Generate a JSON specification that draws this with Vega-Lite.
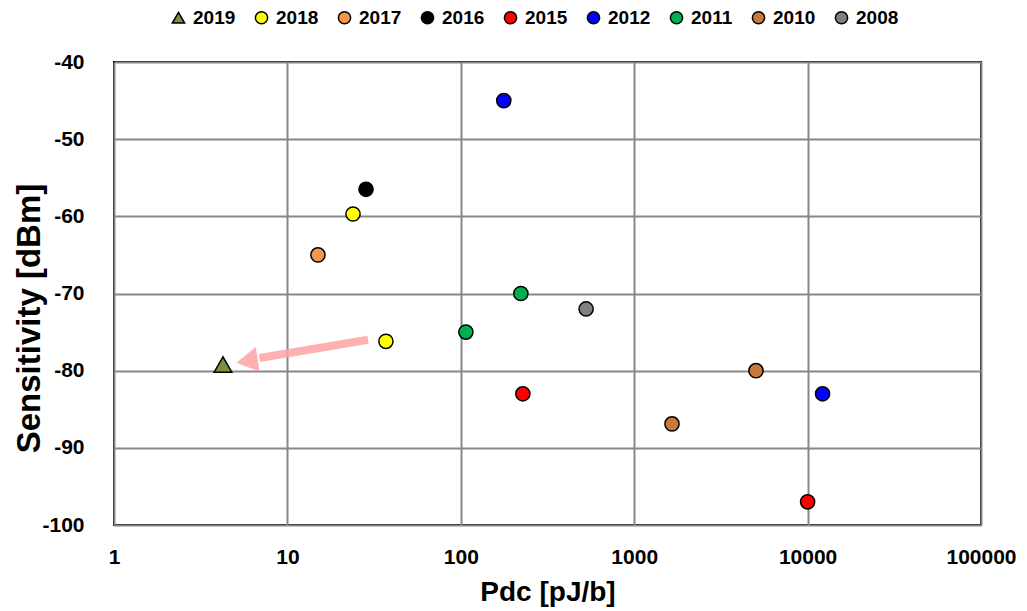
{
  "$schema": "https://vega.github.io/schema/vega-lite/v6.json",
  "width": 867,
  "height": 463,
  "autosize": {"type": "none"},
  "padding": {"left": 114, "top": 62, "right": 46, "bottom": 86},
  "background": "white",
  "config": {
    "view": {"stroke": "black", "strokeWidth": 2},
    "font": "Liberation Sans",
    "axis": {
      "grid": true,
      "gridColor": "#888888",
      "gridWidth": 2,
      "domain": false,
      "ticks": false,
      "labelFont": "Liberation Sans",
      "labelFontWeight": "bold",
      "labelFontSize": 21,
      "labelColor": "black",
      "labelFlush": false,
      "labelOverlap": false,
      "titleFont": "Liberation Sans",
      "titleFontWeight": "bold",
      "titleColor": "black",
      "titleFontSize": 28
    }
  },
  "datasets": {
    "points": [
      {"year": "2019", "pdc": 4.25, "sens": -79.2},
      {"year": "2018", "pdc": 23.9, "sens": -59.7},
      {"year": "2018", "pdc": 37, "sens": -76.2},
      {"year": "2017", "pdc": 15, "sens": -65},
      {"year": "2016", "pdc": 28.4, "sens": -56.5},
      {"year": "2015", "pdc": 228, "sens": -83},
      {"year": "2015", "pdc": 10000, "sens": -97},
      {"year": "2012", "pdc": 177, "sens": -45},
      {"year": "2012", "pdc": 12200, "sens": -83},
      {"year": "2011", "pdc": 107, "sens": -75},
      {"year": "2011", "pdc": 222, "sens": -70},
      {"year": "2010", "pdc": 1652, "sens": -86.9},
      {"year": "2010", "pdc": 5040, "sens": -80},
      {"year": "2008", "pdc": 528, "sens": -72}
    ],
    "arrow": [
      {"pdc": 29.2, "sens": -76.0, "pdc2": 6.9, "sens2": -78.35}
    ],
    "head": [
      {"pdc": 5.85, "sens": -78.75}
    ]
  },
  "encoding": {
    "x": {
      "field": "pdc",
      "type": "quantitative",
      "scale": {"type": "log", "domain": [1, 100000], "nice": false},
      "axis": {
        "values": [1, 10, 100, 1000, 10000, 100000],
        "labelExpr": "datum.value + ''",
        "labelPadding": 21,
        "title": "Pdc [pJ/b]",
        "titleBaseline": "alphabetic",
        "titleY": 75
      }
    },
    "y": {
      "field": "sens",
      "type": "quantitative",
      "scale": {"domain": [-100, -40], "nice": false, "zero": false},
      "axis": {
        "values": [-100, -90, -80, -70, -60, -50, -40],
        "labelExpr": "datum.value + ''",
        "labelPadding": 30,
        "title": "Sensitivity [dBm]",
        "titleFontSize": 33,
        "titleBaseline": "alphabetic",
        "titleX": -75,
        "titleY": 256
      }
    }
  },
  "layer": [
    {
      "data": {"name": "arrow"},
      "mark": {"type": "rule", "color": "#FFA3A3", "strokeWidth": 8, "opacity": 0.85},
      "encoding": {
        "x2": {"field": "pdc2"},
        "y2": {"field": "sens2"}
      }
    },
    {
      "data": {"name": "head"},
      "mark": {"type": "point", "shape": "triangle-up", "filled": true, "color": "#FFA3A3", "opacity": 0.85, "size": 620, "angle": 261},
      "encoding": {}
    },
    {
      "data": {"name": "points"},
      "transform": [{"filter": "datum.year != '2019'"}],
      "mark": {"type": "point", "filled": true, "stroke": "black", "strokeWidth": 1.5, "opacity": 1, "size": 201},
      "encoding": {
        "color": {"field": "year", "type": "nominal"},
        "shape": {"field": "year", "type": "nominal"}
      }
    },
    {
      "data": {"name": "points"},
      "transform": [{"filter": "datum.year == '2019'"}],
      "mark": {"type": "point", "filled": true, "stroke": "black", "strokeWidth": 1.5, "opacity": 1, "size": 313},
      "encoding": {
        "color": {
          "field": "year",
          "type": "nominal",
          "scale": {
            "domain": ["2019", "2018", "2017", "2016", "2015", "2012", "2011", "2010", "2008"],
            "range": ["#77933C", "#FFFF00", "#F79646", "#000000", "#FF0000", "#0000FF", "#00B050", "#C87A3C", "#808080"]
          },
          "legend": {
            "title": null,
            "orient": "none",
            "direction": "horizontal",
            "legendX": 55,
            "legendY": -54,
            "padding": 0,
            "symbolSize": 150,
            "symbolStrokeColor": "black",
            "symbolStrokeWidth": 1.5,
            "symbolOpacity": 1,
            "labelFont": "Liberation Sans",
            "labelFontSize": 19,
            "labelFontWeight": "bold",
            "labelColor": "black",
            "labelOffset": 5,
            "columnPadding": 16
          }
        },
        "shape": {
          "field": "year",
          "type": "nominal",
          "scale": {
            "domain": ["2019", "2018", "2017", "2016", "2015", "2012", "2011", "2010", "2008"],
            "range": ["triangle-up", "circle", "circle", "circle", "circle", "circle", "circle", "circle", "circle"]
          }
        }
      }
    }
  ]
}
